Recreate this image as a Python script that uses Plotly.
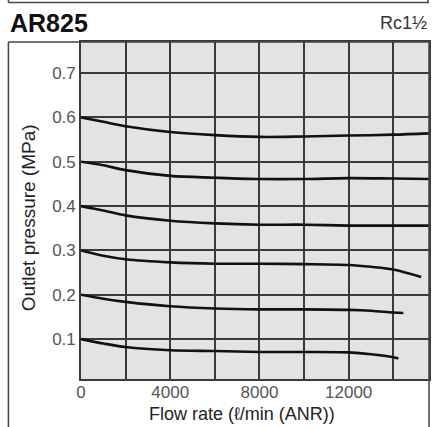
import plotly.graph_objects as go

# ---- data ----
flow_06 = [0, 1000, 2000, 4000, 6000, 8000, 10000, 12000, 14000, 15600]
pres_06 = [0.600, 0.590, 0.580, 0.567, 0.560, 0.556, 0.557, 0.559, 0.561, 0.564]

flow_05 = [0, 1000, 2000, 4000, 6000, 8000, 10000, 12000, 14000, 15600]
pres_05 = [0.500, 0.492, 0.481, 0.468, 0.464, 0.461, 0.461, 0.463, 0.462, 0.461]

flow_04 = [0, 1000, 2000, 4000, 6000, 8000, 10000, 12000, 14000, 15600]
pres_04 = [0.400, 0.390, 0.379, 0.367, 0.361, 0.358, 0.358, 0.356, 0.356, 0.356]

flow_03 = [0, 1000, 2000, 4000, 6000, 8000, 10000, 12000, 13000, 14000, 15250]
pres_03 = [0.300, 0.288, 0.280, 0.273, 0.270, 0.270, 0.269, 0.267, 0.263, 0.257, 0.240]

flow_02 = [0, 1000, 2000, 4000, 6000, 8000, 10000, 12000, 13000, 14000, 14450]
pres_02 = [0.200, 0.191, 0.184, 0.174, 0.169, 0.167, 0.167, 0.166, 0.164, 0.160, 0.159]

flow_01 = [0, 1000, 2000, 4000, 6000, 8000, 10000, 12000, 13000, 14000, 14230]
pres_01 = [0.100, 0.090, 0.082, 0.075, 0.073, 0.071, 0.071, 0.070, 0.066, 0.059, 0.056]

x_tickvals = [0, 2000, 4000, 6000, 8000, 10000, 12000, 14000]
x_ticktext = ["0", "", "4000", "", "8000", "", "12000", ""]
y_tickvals = [0.1, 0.2, 0.3, 0.4, 0.5, 0.6, 0.7]
y_ticktext = ["0.1", "0.2", "0.3", "0.4", "0.5", "0.6", "0.7"]

title_text = "AR825"
port_text = "Rc1½"
x_title = "Flow rate (ℓ/min (ANR))"
y_title = "Outlet pressure (MPa)"

series = [
    (flow_06, pres_06), (flow_05, pres_05), (flow_04, pres_04),
    (flow_03, pres_03), (flow_02, pres_02), (flow_01, pres_01),
]

fig = go.Figure()
for fx, py in series:
    fig.add_trace(go.Scatter(
        x=fx, y=py, mode="lines",
        line=dict(color="#111111", width=2.6, shape="spline", smoothing=0.9),
        showlegend=False, hoverinfo="skip",
    ))

FONT = "Liberation Sans, Arial, sans-serif"
GRID = "#3a3a3a"

fig.update_layout(
    width=434, height=427,
    margin=dict(l=81, r=3, t=42, b=48),
    paper_bgcolor="white",
    plot_bgcolor="#e3e3e3",
    font=dict(family=FONT, color="#222222"),
    showlegend=False,
)

fig.update_xaxes(
    range=[0, 15600],
    tickvals=x_tickvals, ticktext=x_ticktext,
    showgrid=True, gridcolor=GRID, gridwidth=1.6,
    zeroline=False,
    showline=True, linecolor=GRID, linewidth=1.6, mirror=True,
    ticks="", tickfont=dict(family=FONT, size=17, color="#555555"),
    ticklabelstandoff=-3,
    fixedrange=True,
)
fig.update_yaxes(
    range=[0.01, 0.77],
    tickvals=y_tickvals, ticktext=y_ticktext,
    showgrid=True, gridcolor=GRID, gridwidth=1.6,
    zeroline=False,
    showline=True, linecolor=GRID, linewidth=1.6, mirror=True,
    ticks="", tickfont=dict(family=FONT, size=17, color="#555555"),
    ticklabelstandoff=0,
    fixedrange=True,
)

# frame lines around the panel (paper coordinates)
def px_x(px):
    return (px - 81) / 350.0

def px_y(py):
    return (379 - py) / 337.0

line_style = dict(color="#444444", width=1.5)
shapes = [
    dict(type="line", xref="paper", yref="paper", x0=px_x(8), x1=px_x(8), y0=px_y(42), y1=px_y(440), line=line_style),
    dict(type="line", xref="paper", yref="paper", x0=px_x(8), x1=px_x(431), y0=px_y(42), y1=px_y(42), line=line_style),
    dict(type="line", xref="paper", yref="paper", x0=px_x(431), x1=px_x(431), y0=px_y(42), y1=px_y(440), line=line_style),
    dict(type="line", xref="paper", yref="paper", x0=px_x(8), x1=px_x(431), y0=px_y(2.5), y1=px_y(2.5), line=line_style),
    dict(type="line", xref="paper", yref="paper", x0=px_x(8), x1=px_x(8), y0=px_y(2.5), y1=px_y(-5), line=line_style),
    dict(type="line", xref="paper", yref="paper", x0=px_x(430), x1=px_x(430), y0=px_y(2.5), y1=px_y(-5), line=line_style),
]
fig.update_layout(shapes=shapes)

fig.add_annotation(
    text=f"<b>{title_text}</b>", xref="paper", yref="paper",
    x=px_x(8), y=px_y(23), xanchor="left", yanchor="middle",
    showarrow=False, font=dict(family=FONT, size=25, color="#111111"),
)
fig.add_annotation(
    text=port_text, xref="paper", yref="paper",
    x=px_x(431), y=px_y(23), xanchor="right", yanchor="middle",
    showarrow=False, font=dict(family=FONT, size=18, color="#333333"),
)
fig.add_annotation(
    text=x_title, xref="paper", yref="paper",
    x=px_x(243), y=px_y(414), xanchor="center", yanchor="middle",
    showarrow=False, font=dict(family=FONT, size=18, color="#222222"),
)
fig.add_annotation(
    text=y_title, xref="paper", yref="paper",
    x=px_x(28), y=px_y(218), xanchor="center", yanchor="middle",
    textangle=-90,
    showarrow=False, font=dict(family=FONT, size=19, color="#222222"),
)

fig.write_html(
    "out.html",
    config={"displayModeBar": False},
    post_script="document.body.style.margin='0';document.body.style.overflow='hidden';",
)
